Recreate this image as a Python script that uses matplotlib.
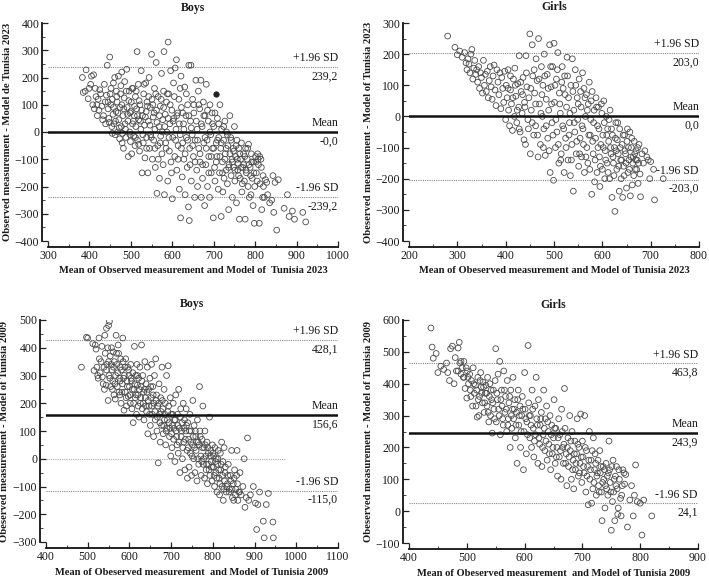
import matplotlib
matplotlib.use("Agg")
import matplotlib.pyplot as plt
from matplotlib.ticker import MultipleLocator

plt.rcParams['font.family'] = ['Liberation Serif', 'DejaVu Serif']

# ---------------- data (mean, difference) ----------------
boys_2023 = [
    (383,200),(385,145),(390,150),(392,228),(397,122),(399,160),
    (403,175),(405,205),(408,100),(410,210),(412,85),(414,160),(416,130),(418,100),(419,60),
    (421,120),(423,80),(425,155),(427,140),(430,95),(432,45),(434,60),(436,175),(438,110),(439,30),
    (441,135),(443,245),(445,85),(447,50),(449,275),(450,140),(452,100),(454,20),(455,-5),(457,65),(458,180),(459,30),
    (461,200),(462,-10),(464,75),(465,150),(467,110),(468,0),(470,205),(471,45),(473,-25),(474,90),(476,170),(477,20),(478,220),(479,-40),
    (481,60),(482,-60),(484,125),(485,185),(487,10),(488,-20),(490,230),(491,90),(493,40),(494,-90),(496,150),(497,0),(498,70),(499,-35),
    (501,110),(502,-80),(504,30),(505,160),(507,-15),(508,60),(510,-50),(511,130),(512,20),(514,85),(515,295),(516,-30),(518,175),(519,45),
    (521,-70),(522,100),(524,10),(525,225),(527,-150),(528,60),(530,-40),(531,140),(533,25),(534,-95),(536,180),(537,75),(538,-20),(539,110),
    (541,-150),(542,40),(544,200),(545,-60),(547,90),(548,-10),(550,285),(551,120),(552,-100),(554,55),(555,-30),(557,160),(558,10),(559,-130),
    (561,255),(562,80),(563,-225),(565,-50),(566,130),(568,20),(569,-170),(571,95),(572,-15),(574,215),(575,-80),(577,45),(578,-120),(579,150),
    (580,295),(581,-230),(583,65),(584,-40),(586,110),(587,0),(589,-180),(590,330),(591,140),(593,-70),(594,30),(596,225),(597,-110),(599,80),
    (600,-245),(601,-20),(603,180),(604,50),(606,-90),(607,235),(609,10),(610,265),(611,-140),(613,70),(614,-50),(616,120),(617,-210),(619,-10),
    (620,-315),(621,205),(622,90),(624,-165),(625,-40),(627,30),(628,-100),(630,165),(631,-230),(633,60),(634,-20),(636,-130),(637,100),(639,-275),
    (640,245),(641,-325),(642,-60),(644,40),(645,245),(646,-180),(648,-10),(649,120),(651,-90),(652,70),(654,-240),(655,-30),(657,190),(659,-140),
    (660,10),(661,-200),(663,150),(664,-60),(666,85),(667,-110),(669,190),(670,-240),(672,20),(673,-170),(675,110),(676,-40),(678,-270),(679,60),
    (681,-120),(682,175),(684,-30),(685,-200),(687,40),(688,-90),(690,-240),(691,100),(693,-10),(694,-150),(696,70),(697,-60),(699,-315),(700,20),
    (702,-130),(703,-180),(706,-40),(708,-90),(709,50),(711,-210),(712,-20),(714,-150),(715,100),(717,-60),(718,-310),(719,10),
    (721,-110),(722,-220),(724,-30),(725,-170),(727,40),(728,-80),(730,-140),(731,0),(733,-190),(734,-50),(736,-285),(737,-120),(739,60),
    (741,-20),(742,-160),(744,-100),(745,-240),(747,-60),(748,-130),(750,20),(751,-180),(753,-90),(755,-260),(756,-30),(758,-140),(759,-115),
    (761,-60),(762,-320),(764,-170),(765,-100),(767,-40),(768,-220),(770,-130),(772,-80),(774,-180),(776,-320),(777,-60),(779,-150),
    (781,-100),(783,-200),(784,-45),(786,-240),(788,-130),(790,-230),(791,-80),(793,-170),(795,-270),(796,-110),(798,-335),(799,-200),
    (801,-90),(803,-150),(805,-180),(806,-80),(808,-120),(810,-335),(812,-190),(814,-100),(816,-285),(818,-240),(819,-160),
    (822,-240),(825,-175),(828,-185),(830,-230),(835,-260),(840,-250),(843,-160),(845,-295),(848,-185),(852,-360),(856,-175),
    (870,-280),(878,-230),(882,-310),(890,-290),(895,-320),(915,-295),(922,-330),
]
boys_2023_core = [
    (445,110),(448,35),(452,160),(455,120),(458,90),(463,40),(466,130),(469,70),(472,15),(475,140),(478,100),(480,-5),(483,85),(486,30),
    (489,150),(492,65),(495,115),(498,-10),(500,75),(503,160),(506,40),(509,95),(511,-20),(513,150),(516,60),(519,-45),(520,115),(523,40),
    (526,80),(529,-10),(532,175),(535,55),(538,-60),(540,95),(543,130),(546,25),(549,-20),(553,100),(556,70),(558,-60),(560,140),(563,35),
    (566,-100),(569,60),(571,-40),(573,120),(576,0),(579,90),(582,20),(585,-60),(588,140),(590,50),(592,-20),(595,100),(598,-150),(602,40),
    (605,130),(608,-30),(611,60),(614,-100),(617,30),(619,160),(622,-60),(625,70),(628,10),(631,-80),(634,140),(637,-30),(640,60),(643,-120),
    (646,15),(649,-50),(652,100),(655,-110),(658,40),(661,-30),(664,100),(667,-80),(670,30),(673,-120),(676,60),(679,-20),(682,-60),(685,80),
    (688,-150),(691,0),(694,-90),(697,30),(700,-60),(703,70),(706,-110),(709,-30),(712,30),(715,-90),(718,-40),(721,-150),(724,20),(727,-100),
    (730,-60),(733,-10),(736,-130),(739,-80),(742,-30),(745,-110),(748,-70),(751,-140),(754,-50),(757,-100),(760,-160),(763,-80),(766,-130),
    (769,-190),(772,-120),(775,-90),(778,-140),(782,-60),(785,-120),(789,-160),(792,-110),(797,-150),(802,-110),(807,-100),(811,-90),(815,-130),(820,-200),
]
boys_2023_highlight = [(705,140)]

girls_2023 = [
    (280,258),(295,222),(300,198),(305,210),(310,190),(315,205),(318,172),(320,150),
    (322,185),(324,168),(326,140),(328,200),(330,215),(332,120),(334,155),(336,180),(338,135),(340,150),(342,110),(344,160),(346,90),(348,140),(350,125),(352,75),(354,180),(356,100),(358,135),
    (360,80),(362,145),(364,60),(366,115),(368,160),(370,95),(372,55),(374,130),(376,165),(378,85),(380,35),(382,150),(384,110),(386,70),(388,140),(390,25),(392,125),(394,90),(396,45),(398,145),
    (400,-10),(401,100),(403,60),(405,150),(406,20),(408,-30),(410,85),(412,40),(414,-45),(416,120),(418,0),(419,155),(421,65),(423,-20),(425,105),(427,30),(428,195),(430,-50),(432,80),(434,10),(436,125),(438,-75),(439,45),
    (441,-90),(442,195),(444,95),(446,-10),(448,60),(450,265),(451,-120),(453,20),(455,230),(456,130),(458,-60),(460,75),(462,-30),(463,185),(465,115),(467,-130),(468,250),(470,40),(472,-90),(474,160),(476,0),(477,100),(479,-40),
    (480,200),(482,-125),(484,55),(486,135),(487,-70),(489,20),(491,230),(492,-180),(494,95),(496,-20),(497,160),(499,-205),(500,235),(501,45),(503,-100),(505,120),(506,-50),(508,205),(510,-150),(511,75),(513,10),(515,-120),(517,160),(518,-30),(519,90),
    (521,-180),(522,130),(524,-70),(526,30),(527,190),(529,-140),(530,60),(532,-20),(534,-190),(535,100),(537,-90),(538,185),(540,-240),(541,20),(543,-50),(544,150),(546,-120),(548,60),(549,-10),(551,-160),(552,120),(554,-70),(556,30),(557,-130),(559,140),
    (560,-40),(562,90),(563,-180),(565,0),(567,70),(568,-100),(570,-150),(571,40),(573,110),(575,-60),(576,-10),(578,-250),(579,80),(581,-120),(583,20),(584,-210),(586,-70),(587,60),(589,-180),(590,-30),(592,30),(594,-130),(595,-225),(597,-90),(599,10),
    (600,-170),(601,-60),(603,50),(605,-200),(606,-110),(608,0),(610,-150),(611,-40),(613,-80),(615,-200),(616,20),(618,-120),(620,-260),(621,-60),(623,-150),(625,-100),(626,-305),(628,-20),(630,-170),(631,-75),(633,-120),(635,-240),(636,-40),(638,-140),(639,-200),
    (641,-90),(642,-260),(644,-160),(646,-60),(648,-120),(650,-230),(651,-80),(653,-180),(655,-140),(657,-50),(658,-255),(660,-100),(662,-220),(664,-130),(666,-80),(668,-170),(670,-110),(672,-140),(674,-215),(676,-90),(678,-185),(679,-258),
    (682,-120),(685,-150),(688,-110),(692,-130),(695,-140),(698,-200),(700,-145),(706,-170),(708,-268),(726,-200),
]
girls_2023_core = [
    (405,90),(410,130),(415,60),(420,100),(424,20),(428,-40),(431,110),(435,70),(440,30),(443,140),(447,-40),(452,90),(455,-20),(459,150),
    (462,40),(466,-60),(469,120),(473,10),(475,70),(478,-100),(481,130),(484,-30),(488,90),(490,-110),(493,160),(495,40),(498,-60),(502,100),
    (504,-10),(507,150),(509,-90),(512,40),(514,-140),(516,110),(520,-40),(523,70),(525,-100),(528,130),(531,-60),(533,10),(536,-140),(539,80),
    (542,-20),(545,100),(547,-80),(550,40),(553,-120),(555,80),(558,-30),(561,-90),(564,60),(566,-130),(569,20),(572,-60),(574,-170),(577,50),
    (580,-80),(582,-20),(585,-140),(588,30),(591,-100),(593,-40),(596,-160),(598,40),(602,-100),(604,-20),(607,-140),(609,-60),(612,-180),
    (614,-10),(617,-100),(619,-40),(622,-130),(624,-190),(627,-70),(629,-110),(632,-20),(634,-160),(637,-100),(640,-140),(643,-60),(645,-190),
    (647,-110),(649,-150),(652,-40),(654,-100),(656,-170),(659,-130),(661,-70),(663,-150),(665,-190),(667,-120),(669,-140),(671,-170),(673,-100),(675,-150),
]

boys_2009 = [
    (485,330),(497,438),(500,435),(512,415),(515,318),(518,410),(520,395),(522,330),(524,300),(525,290),(527,435),(528,360),(530,310),(532,350),(534,405),(535,295),(537,270),(539,330),(540,250),
    (541,445),(542,380),(544,265),(545,470),(546,340),(548,400),(549,210),(550,480),(551,300),(552,495),(554,370),(555,260),(557,400),(558,320),(560,280),(561,385),(563,230),(564,350),(566,215),(567,300),(568,445),(570,340),(571,260),(573,410),(574,380),(576,290),(577,230),(578,330),(579,360),
    (580,200),(581,320),(583,270),(584,435),(585,350),(587,175),(588,300),(590,240),(591,360),(593,190),(594,280),(596,330),(597,225),(599,300),(600,260),(602,200),(603,340),(605,280),(606,180),(608,310),(609,130),(611,250),(612,405),(614,220),(615,300),(617,160),(618,340),(619,265),
    (620,230),(622,290),(623,150),(625,330),(626,200),(628,260),(629,410),(631,180),(632,300),(634,240),(635,140),(637,350),(638,220),(640,270),(641,170),(643,330),(644,90),(646,250),(647,190),(649,290),(650,120),(652,220),(653,340),(655,160),(656,260),(658,80),(659,200),
    (660,300),(662,140),(663,360),(665,230),(666,100),(668,190),(669,-15),(671,270),(672,160),(674,60),(675,220),(677,120),(678,330),(680,180),(681,90),(683,250),(684,140),(686,200),(687,50),(689,300),(690,110),(692,170),(693,335),(695,130),(696,80),(698,220),(699,10),
    (700,160),(702,40),(703,120),(705,200),(706,70),(708,140),(709,-10),(711,230),(712,100),(714,50),(715,160),(717,20),(718,250),(720,110),(721,-50),(723,180),(724,80),(726,130),(727,0),(729,200),(730,60),(732,140),(733,-40),(735,100),(736,180),(738,30),(739,-70),
    (740,130),(742,70),(743,-30),(745,160),(746,20),(748,100),(749,-60),(751,50),(752,210),(754,0),(755,120),(757,-50),(759,80),(760,30),(762,-80),(763,140),(765,60),(766,-20),(768,260),(769,100),(771,10),(772,-60),(774,70),(776,190),(777,-20),(779,40),
    (780,-70),(781,100),(783,10),(784,-40),(786,60),(787,-90),(789,20),(790,-20),(792,150),(793,-60),(795,30),(796,-10),(798,-80),(799,50),(801,-30),(802,10),(804,-100),(805,40),(807,-50),(808,0),(810,-120),(811,-20),(813,30),(815,-70),(816,-130),(818,20),(819,-40),
    (821,60),(822,-100),(824,-10),(825,-150),(827,40),(828,-80),(830,-30),(832,-120),(835,-90),(837,-20),(840,-110),(842,-60),(845,30),(847,-140),(849,-90),(850,-150),(852,-40),(855,-110),(857,-60),(858,30),(860,-150),
    (862,-120),(865,-50),(868,-130),(872,-100),(875,0),(877,-175),(880,-140),(883,75),(886,-150),(890,-130),(897,-100),(902,-160),(905,-255),(908,-165),(912,-120),(921,-225),(923,-285),(928,-165),(933,-125),(944,-228),(945,-285),
]
boys_2009_core = [
    (545,320),(550,350),(553,290),(556,340),(559,250),(562,330),(565,270),(569,380),(572,310),(575,240),(578,280),(582,240),(586,290),(589,330),
    (592,220),(595,260),(598,320),(601,230),(604,290),(607,250),(610,200),(613,270),(616,230),(619,300),(621,190),(624,250),(627,220),(630,280),
    (633,200),(636,250),(639,190),(642,240),(645,210),(648,160),(651,260),(654,190),(657,230),(661,170),(664,210),(667,150),(670,200),(673,130),
    (676,170),(679,210),(682,120),(685,160),(688,100),(691,140),(694,190),(697,110),(701,90),(704,160),(707,110),(710,140),(713,80),(716,120),
    (719,60),(722,150),(725,100),(728,40),(731,110),(734,70),(737,120),(741,40),(744,100),(747,60),(750,10),(753,80),(756,40),(758,100),(761,60),
    (764,0),(767,50),(770,80),(773,-10),(775,40),(778,0),(782,50),(785,-20),(788,40),(791,-40),(794,10),(797,-30),(800,20),(803,-60),(806,-10),
    (809,-70),(812,0),(814,-40),(817,-90),(820,-20),(823,-60),(826,-110),(829,-50),(833,-100),(836,-60),(839,-120),(843,-80),(846,-110),(851,-70),(854,-130),(859,-90),(864,-120),
]

girls_2009 = [
    (438,575),(440,515),(442,480),(447,495),(450,435),(455,455),(460,445),(465,465),(467,435),(470,410),(472,510),(475,518),(478,400),(480,482),(482,440),(485,512),(487,530),(488,465),(490,430),(492,450),(494,420),(495,470),(497,385),(499,450),
    (500,355),(501,440),(503,400),(505,430),(506,380),(508,410),(510,330),(511,450),(513,370),(515,395),(516,330),(518,295),(519,420),(521,300),(522,360),(524,435),(525,390),(527,340),(528,405),(530,310),(532,370),(533,395),(535,330),(536,420),(538,280),(539,360),
    (540,400),(541,300),(543,350),(544,245),(546,380),(547,320),(549,410),(550,510),(551,280),(553,350),(554,430),(556,300),(557,470),(558,240),(560,380),(561,330),(563,270),(564,440),(566,310),(567,360),(569,250),(570,410),(572,290),(573,340),(575,200),(576,380),(578,260),(579,320),
    (580,420),(581,290),(583,350),(584,230),(586,310),(587,150),(589,380),(590,270),(592,330),(593,200),(595,300),(596,360),(598,130),(599,250),(600,435),(601,320),(603,180),(604,280),(606,520),(607,340),(609,230),(610,300),(612,200),(613,380),(615,260),(616,170),(618,330),(619,240),
    (620,420),(621,290),(623,150),(624,350),(626,210),(627,270),(629,310),(630,140),(632,240),(633,380),(635,190),(636,290),(638,330),(639,160),(641,250),(642,210),(644,300),(645,130),(647,270),(648,180),(650,230),(651,350),(653,150),(654,260),(656,200),(657,110),(659,290),
    (660,170),(661,240),(663,100),(664,320),(666,200),(667,150),(669,385),(670,260),(672,180),(673,80),(675,230),(676,140),(678,300),(679,190),(681,100),(682,250),(684,160),(685,70),(687,220),(688,130),(690,180),(691,290),(693,110),(694,200),(696,150),(697,305),(699,90),
    (700,220),(701,170),(703,120),(704,300),(706,60),(707,190),(709,140),(710,20),(712,250),(713,100),(715,160),(716,25),(718,70),(719,230),(721,130),(722,180),(724,50),(725,110),(727,160),(728,80),(730,190),(731,120),(733,60),(734,-30),(736,140),(737,100),(739,10),
    (740,80),(741,150),(743,110),(744,50),(746,220),(747,130),(749,60),(750,-60),(752,30),(753,160),(755,100),(756,-30),(758,80),(759,140),(761,-10),(762,10),(764,100),(766,40),(767,-15),(769,80),(770,130),(773,85),(775,115),(778,-50),
    (782,35),(785,80),(788,-15),(790,50),(792,145),(795,30),(800,25),(803,-75),(806,35),(820,-15),
]
girls_2009_core = [
    (485,440),(490,470),(495,420),(502,420),(507,360),(512,400),(517,380),(520,350),(523,410),(526,370),(529,390),(531,340),(534,370),(537,310),
    (542,380),(545,340),(548,290),(552,370),(555,320),(559,350),(562,290),(565,380),(568,320),(571,270),(574,360),(577,300),(582,320),(585,270),
    (588,350),(591,300),(594,250),(597,320),(602,290),(605,240),(608,300),(611,270),(614,320),(617,220),(622,270),(625,230),(628,290),(631,200),
    (634,260),(637,220),(640,280),(643,180),(646,240),(649,200),(652,260),(655,170),(658,230),(662,190),(665,250),(668,210),(671,150),(674,200),
    (677,170),(680,220),(683,130),(686,180),(689,150),(692,210),(695,120),(698,170),(702,140),(705,200),(708,110),(711,160),(714,130),(717,190),
    (720,90),(723,150),(726,120),(729,60),(732,140),(735,90),(738,130),(742,70),(745,120),(748,90),(751,140),(754,60),(757,110),(760,70),(763,130),(768,50),(772,120),
]

titles = ["Boys", "Girls", "Boys", "Girls"]
xlabels = ["Mean of Observed measurement and Model of  Tunisia 2023",
           "Mean of Obeserved measurement and Model of Tunisia 2023",
           "Mean of Obeserved measurement  and Model of Tunisia 2009",
           "Mean of Obeserved measurement  and Model of Tunisia 2009"]
ylabels = ["Observed measurement - Model de Tunisia 2023",
           "Obeserved measurement - Model of Tunisia 2023",
           "Obeserved measurement - Model of Tunisia 2009",
           "Obeserved measurement - Model of Tunisia 2009"]
means = [-0.0, 0.0, 156.6, 243.9]
upper = [239.2, 203.0, 428.1, 463.8]
lower = [-239.2, -203.0, -115.0, 24.1]
mean_txt = ["-0,0", "0,0", "156,6", "243,9"]
upper_txt = ["239,2", "203,0", "428,1", "463,8"]
lower_txt = ["-239,2", "-203,0", "-115,0", "24,1"]
xlims = [(300, 1000), (200, 800), (400, 1100), (400, 900)]
ylims = [(-400, 400), (-400, 300), (-300, 500), (-100, 600)]
datasets = [boys_2023 + boys_2023_core, girls_2023 + girls_2023_core,
            boys_2009 + boys_2009_core, girls_2009 + girls_2009_core]

# ---------------- layout ----------------
W, H = 709, 580
fig = plt.figure(figsize=(W / 100, H / 100), dpi=100)
# pixel boxes: (left, right, top, bottom)
boxes = [(48, 338, 23, 241), (409, 699, 23, 241), (46, 338, 320, 542), (409, 698, 320, 543)]

txtcol = '#1a1a1a'
for i, (l, r, t, b) in enumerate(boxes):
    ax = fig.add_axes([l / W, 1 - b / H, (r - l) / W, (b - t) / H])
    ax.set_facecolor('none')
    xs = [p[0] for p in datasets[i]]
    ys = [p[1] for p in datasets[i]]
    ax.set_xlim(*xlims[i])
    ax.set_ylim(*ylims[i])
    x0, x1 = xlims[i]

    # reference lines
    ax.plot([x0, x1], [upper[i], upper[i]], ls=(0, (1, 1)), color='#888888', lw=0.8, zorder=1)
    ax.plot([x0, x1], [lower[i], lower[i]], ls=(0, (1, 1)), color='#888888', lw=0.8, zorder=1)
    if i == 2:
        ax.plot([400, 975], [0, 0], ls=(0, (1, 1)), color='#aaaaaa', lw=0.8, zorder=1)

    ax.scatter(xs, ys, s=17, facecolors='none', edgecolors='#4a4a4a', linewidths=0.6, zorder=2)
    if i == 0:
        hx = [p[0] for p in boys_2023_highlight]
        hy = [p[1] for p in boys_2023_highlight]
        ax.scatter(hx, hy, s=15, facecolors='#222222', edgecolors='#222222', linewidths=0.6, zorder=3)

    ax.plot([x0, x1], [means[i], means[i]], color='#111111', lw=1.8, zorder=4)

    fs = 8.5
    ax.annotate("+1.96 SD", (x1, upper[i]), xytext=(0, 2), textcoords='offset points',
                ha='right', va='bottom', fontsize=fs, color=txtcol)
    ax.annotate(upper_txt[i], (x1, upper[i]), xytext=(0, -2.5), textcoords='offset points',
                ha='right', va='top', fontsize=fs, color=txtcol)
    ax.annotate("Mean", (x1, means[i]), xytext=(0, 2.5), textcoords='offset points',
                ha='right', va='bottom', fontsize=fs, color=txtcol)
    ax.annotate(mean_txt[i], (x1, means[i]), xytext=(0, -2.5), textcoords='offset points',
                ha='right', va='top', fontsize=fs, color=txtcol)
    ax.annotate("-1.96 SD", (x1, lower[i]), xytext=(0, 2), textcoords='offset points',
                ha='right', va='bottom', fontsize=fs, color=txtcol)
    ax.annotate(lower_txt[i], (x1, lower[i]), xytext=(0, -2.5), textcoords='offset points',
                ha='right', va='top', fontsize=fs, color=txtcol)

    # spines & ticks
    for s in ['top', 'right']:
        ax.spines[s].set_visible(False)
    for s in ['left', 'bottom']:
        ax.spines[s].set_position(('outward', 4.3))
        ax.spines[s].set_linewidth(1.3)
        ax.spines[s].set_color('#111111')
    ax.xaxis.set_major_locator(MultipleLocator(100))
    ax.xaxis.set_minor_locator(MultipleLocator(50))
    ax.yaxis.set_major_locator(MultipleLocator(100))
    ax.yaxis.set_minor_locator(MultipleLocator(50))
    ax.tick_params(which='major', direction='in', length=4.3, width=0.9, color='#222222',
                   labelsize=8.5, labelcolor=txtcol, pad=2)
    ax.tick_params(which='minor', direction='in', length=2.2, width=0.7, color='#444444')

    ax.set_title(titles[i], fontsize=8.5, fontweight='bold', color=txtcol, pad=9)
    ax.set_xlabel(xlabels[i], fontsize=7.6, fontweight='bold', color=txtcol)
    ax.set_ylabel(ylabels[i], fontsize=7.7, fontweight='bold', color=txtcol)
    ax.xaxis.set_label_coords(0.5, -0.115)
    ax.yaxis.set_label_coords(-0.125, 0.5)

fig.savefig("out.png", dpi=100)
